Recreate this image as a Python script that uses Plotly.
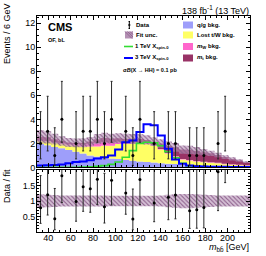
import numpy as np
import plotly.graph_objects as go

# ---------------- data ----------------
x_lo, x_hi, n_bins = 30.0, 220.0, 30
edges = np.linspace(x_lo, x_hi, n_bins + 1)
centers = 0.5 * (edges[:-1] + edges[1:])
x_tick_vals = [40, 60, 80, 100, 120, 140, 160, 180, 200]

data_counts = [2, 3, 1, 4, 0, 2, 3, 3, 4, 2, 4, 0, 3, 1, 4, 0, 2, 0, 2, 2,
               0, 1, 1, 1, 0, 2, 3, 0, 0, 0]
data_err_up = [2.64, 2.92, 2.30, 3.16, 0, 2.64, 2.92, 2.92, 3.16, 2.64, 3.16, 0, 2.92, 2.30, 3.16, 0,
               2.64, 0, 2.64, 2.64, 0, 2.30, 2.30, 2.30, 0, 2.64, 2.92, 0, 0, 0]
data_err_dn = [1.29, 1.63, 0.83, 1.91, 0, 1.29, 1.63, 1.63, 1.91, 1.29, 1.91, 0, 1.63, 0.83, 1.91, 0,
               1.29, 0, 1.29, 1.29, 0, 0.83, 0.83, 0.83, 0, 1.29, 1.63, 0, 0, 0]

qg_bkg = [1.95, 1.85, 1.70, 1.60, 1.45, 1.30, 1.15, 1.00, 0.90, 0.85, 0.75, 0.70, 0.62, 0.55, 0.50,
          0.45, 0.40, 0.35, 0.30, 0.28, 0.25, 0.22, 0.20, 0.18, 0.16, 0.14, 0.12, 0.10, 0.08, 0.07]
lost_tw = [0.25, 0.30, 0.35, 0.35, 0.40, 0.50, 0.60, 0.75, 0.85, 0.95, 1.05, 1.25, 1.35, 1.45, 1.50,
           1.50, 1.40, 1.15, 0.85, 0.60, 0.40, 0.35, 0.30, 0.25, 0.22, 0.20, 0.15, 0.12, 0.10, 0.08]
mw_bkg = [0.05, 0.05, 0.05, 0.05, 0.08, 0.12, 0.18, 0.25, 0.30, 0.30, 0.25, 0.18, 0.12, 0.08, 0.06,
          0.04, 0.04, 0.04, 0.04, 0.04, 0.04, 0.04, 0.04, 0.04, 0.04, 0.04, 0.04, 0.04, 0.04, 0.04]
mt_bkg = [0.30, 0.30, 0.25, 0.20, 0.15, 0.12, 0.12, 0.15, 0.30, 0.35, 0.35, 0.30, 0.30, 0.30, 0.30,
          0.30, 0.30, 0.45, 0.60, 0.75, 0.80, 0.85, 0.85, 0.80, 0.75, 0.65, 0.55, 0.45, 0.35, 0.25]
fit_rel_unc = [0.22, 0.20, 0.19, 0.18, 0.18, 0.18, 0.18, 0.18, 0.18, 0.18, 0.17, 0.17, 0.17, 0.17, 0.17,
               0.17, 0.17, 0.18, 0.20, 0.22, 0.23, 0.23, 0.22, 0.20, 0.19, 0.18, 0.18, 0.18, 0.18, 0.18]

sig_1tev = [0.0, 0.0, 0.0, 0.0, 0.0, 0.02, 0.03, 0.05, 0.10, 0.15, 0.25, 0.45, 0.85, 1.40, 2.00,
            2.10, 2.05, 1.80, 1.30, 0.80, 0.35, 0.12, 0.05, 0.03, 0.02, 0.01, 0.01, 0.0, 0.0, 0.0]
sig_3tev = [0.15, 0.17, 0.20, 0.25, 0.35, 0.45, 0.50, 0.60, 0.75, 0.85, 1.00, 1.50, 2.10, 2.25, 2.95,
            3.60, 3.50, 2.65, 1.55, 0.65, 0.30, 0.15, 0.10, 0.08, 0.06, 0.05, 0.05, 0.04, 0.04, 0.03]

# ---------------- helpers ----------------
def step(vals):
    return list(edges), list(vals) + [vals[-1]]

c1 = np.array(qg_bkg)
c2 = c1 + np.array(lost_tw)
c3 = c2 + np.array(mw_bkg)
c4 = c3 + np.array(mt_bkg)
total = c4
unc = total * np.array(fit_rel_unc)

fig = go.Figure()

fills = [(np.zeros(n_bins), None),
         (c1, 'rgb(158,158,250)'),
         (c2, 'rgb(255,255,100)'),
         (c3, 'rgb(255,102,204)'),
         (c4, 'rgb(153,51,102)')]
for vals, col in fills:
    xs, ys = step(list(vals))
    fig.add_trace(go.Scatter(x=xs, y=ys, mode='lines', line=dict(width=0, shape='hv'),
                             fill='tonexty' if col else None, fillcolor=col,
                             xaxis='x', yaxis='y', hoverinfo='skip'))

band_fill = 'rgba(185,150,185,0.6)'
band_pattern = dict(shape='\\', fgcolor='rgb(140,95,140)', bgcolor=band_fill,
                    size=3, solidity=0.35, fillmode='replace')

xs, ys = step(list(total - unc))
fig.add_trace(go.Scatter(x=xs, y=ys, mode='lines', line=dict(width=0, shape='hv'),
                         xaxis='x', yaxis='y', hoverinfo='skip'))
xs, ys = step(list(total + unc))
fig.add_trace(go.Scatter(x=xs, y=ys, mode='lines', line=dict(width=0, shape='hv'),
                         fill='tonexty', fillcolor=band_fill, fillpattern=band_pattern,
                         xaxis='x', yaxis='y', hoverinfo='skip'))

for vals, col, w in [(sig_1tev, 'rgb(50,220,50)', 1.6), (sig_3tev, 'rgb(0,0,255)', 2.0)]:
    xs, ys = step(vals)
    fig.add_trace(go.Scatter(x=xs, y=ys, mode='lines', line=dict(width=w, color=col, shape='hv'),
                             xaxis='x', yaxis='y', hoverinfo='skip'))

mask = [i for i in range(n_bins) if data_counts[i] > 0]
fig.add_trace(go.Scatter(x=[centers[i] for i in mask], y=[data_counts[i] for i in mask], mode='markers',
                         marker=dict(color='black', size=3),
                         error_y=dict(type='data', symmetric=False,
                                      array=[data_err_up[i] for i in mask],
                                      arrayminus=[data_err_dn[i] for i in mask],
                                      color='rgb(40,40,40)', thickness=1, width=1),
                         xaxis='x', yaxis='y', hoverinfo='skip'))

xs, ys = step(list(1 - np.array(fit_rel_unc)))
fig.add_trace(go.Scatter(x=xs, y=ys, mode='lines', line=dict(width=0, shape='hv'),
                         xaxis='x2', yaxis='y2', hoverinfo='skip'))
xs, ys = step(list(1 + np.array(fit_rel_unc)))
fig.add_trace(go.Scatter(x=xs, y=ys, mode='lines', line=dict(width=0, shape='hv'),
                         fill='tonexty', fillcolor=band_fill, fillpattern=band_pattern,
                         xaxis='x2', yaxis='y2', hoverinfo='skip'))

ratio = [data_counts[i] / total[i] for i in mask]
r_up = [data_err_up[i] / total[i] for i in mask]
r_dn = [data_err_dn[i] / total[i] for i in mask]
fig.add_trace(go.Scatter(x=[centers[i] for i in mask], y=ratio, mode='markers',
                         marker=dict(color='black', size=3),
                         error_y=dict(type='data', symmetric=False, array=r_up, arrayminus=r_dn,
                                      color='rgb(40,40,40)', thickness=1, width=1),
                         xaxis='x2', yaxis='y2', hoverinfo='skip'))

# ---------------- layout ----------------
L, R, T, B = 37, 16, 16, 24
W, H = 266, 256
pw, ph = W - L - R, H - T - B

def px(xp):
    return (xp - L) / pw

def py(yp):
    return (H - B - yp) / ph

base_axis = dict(showline=True, linecolor='black', linewidth=1, mirror='allticks', ticks='inside',
                 ticklen=4, tickwidth=1, tickcolor='black', showgrid=False, zeroline=False)

def minor(**kw):
    d = dict(ticks='inside', ticklen=2, tickcolor='black', showgrid=False)
    d.update(kw)
    return d

fig.update_layout(
    width=W, height=H, margin=dict(l=L, r=R, t=T, b=B),
    plot_bgcolor='white', paper_bgcolor='white', showlegend=False, hovermode=False,
    font=dict(family='Liberation Sans, Arial, sans-serif', size=9, color='black'),
    xaxis=dict(domain=[0, 1], range=[x_lo, x_hi], anchor='y', showticklabels=False,
               tickvals=x_tick_vals, minor=minor(dtick=5, tick0=0), **base_axis),
    yaxis=dict(domain=[0.299, 1], range=[0, 12.6], anchor='x', dtick=2, tick0=0,
               ticklabelstandoff=-1, minor=minor(dtick=0.5, tick0=0), **base_axis),
    xaxis2=dict(domain=[0, 1], range=[x_lo, x_hi], anchor='y2', matches='x', tickvals=x_tick_vals,
                ticklabelstandoff=-3, minor=minor(dtick=5, tick0=0), **base_axis),
    yaxis2=dict(domain=[0, 0.287], range=[0, 2], anchor='x2', tickvals=[0.5, 1, 1.5],
                ticktext=['0.5', '1', '1.5'], ticklabelstandoff=-1,
                minor=minor(tickvals=[i / 10 for i in range(1, 20)]), **base_axis),
)

ann = []
def text(x, y, s, size, xanchor='left', yanchor='middle', angle=0, bold=False):
    ann.append(dict(x=px(x), y=py(y), xref='paper', yref='paper', text=('<b>%s</b>' % s) if bold else s,
                    showarrow=False, xanchor=xanchor, yanchor=yanchor, textangle=angle,
                    font=dict(size=size, color='black'), borderpad=0))

text(250, 10, '138 fb<sup>-1</sup> (13 TeV)', 9, xanchor='right')
text(47, 27, 'CMS', 11, bold=True)
text(47, 39.5, 'OF, bL', 5.5, bold=True)
text(7, 34, 'Events / 6 GeV', 9, xanchor='center', angle=-90)
text(7, 186, 'Data / fit', 9, xanchor='center', angle=-90)
text(250, 247, '<i>m</i><sub>bb̄</sub> [GeV]', 9, xanchor='right')

leg_rows = [25, 35, 46.5, 58]
text(135, leg_rows[0], 'Data', 6, bold=True)
text(135, leg_rows[1], 'Fit unc.', 6, bold=True)
text(134, leg_rows[2], '1 TeV X<sub>spin-0</sub>', 6, bold=True)
text(134, leg_rows[3], '3 TeV X<sub>spin-0</sub>', 6, bold=True)
text(122, 70, 'σ<i>B</i>(X → HH) = 0.1 pb', 5.5, bold=True)
right_labels = ['q/g bkg.', 'Lost t/W bkg.', '<i>m</i><sub>W</sub> bkg.', '<i>m</i><sub>t</sub> bkg.']
for yrow, lab in zip(leg_rows, right_labels):
    text(196, yrow, lab, 6, bold=True)
fig.update_layout(annotations=ann)

shapes = []
def rect(x0, y0, x1, y1, col):
    shapes.append(dict(type='rect', xref='paper', yref='paper', x0=px(x0), x1=px(x1), y0=py(y1), y1=py(y0),
                       fillcolor=col, line=dict(width=0)))

def line(x0, y0, x1, y1, col, w):
    shapes.append(dict(type='line', xref='paper', yref='paper', x0=px(x0), x1=px(x1), y0=py(y0), y1=py(y1),
                       line=dict(color=col, width=w)))

line(129.3, leg_rows[0] - 3.5, 129.3, leg_rows[0] + 3.5, 'black', 1)
line(128.6, leg_rows[0] - 3.5, 130, leg_rows[0] - 3.5, 'black', 1)
line(128.6, leg_rows[0] + 3.5, 130, leg_rows[0] + 3.5, 'black', 1)
line(128.3, leg_rows[0], 130.3, leg_rows[0], 'black', 1.5)
rect(125, leg_rows[1] - 3.5, 133, leg_rows[1] + 3.5, 'rgb(180,145,180)')
for k in range(4):
    x0 = 125 + 2.5 * k
    line(x0, leg_rows[1] - 3.5, min(133, x0 + 7), leg_rows[1] - 3.5 + min(7, 133 - x0), 'rgb(140,95,140)', 0.8)
line(124, leg_rows[2], 133, leg_rows[2], 'rgb(50,220,50)', 1.6)
line(124, leg_rows[3], 133, leg_rows[3], 'rgb(0,0,255)', 2)
for yrow, col in zip(leg_rows, ['rgb(158,158,250)', 'rgb(255,255,100)', 'rgb(255,102,204)', 'rgb(153,51,102)']):
    rect(183, yrow - 3.5, 193, yrow + 3.5, col)
fig.update_layout(shapes=shapes)

fig.write_html('out.html', config={'displayModeBar': False, 'staticPlot': True},
               post_script="document.body.style.margin='0px';document.body.style.overflow='hidden';")
